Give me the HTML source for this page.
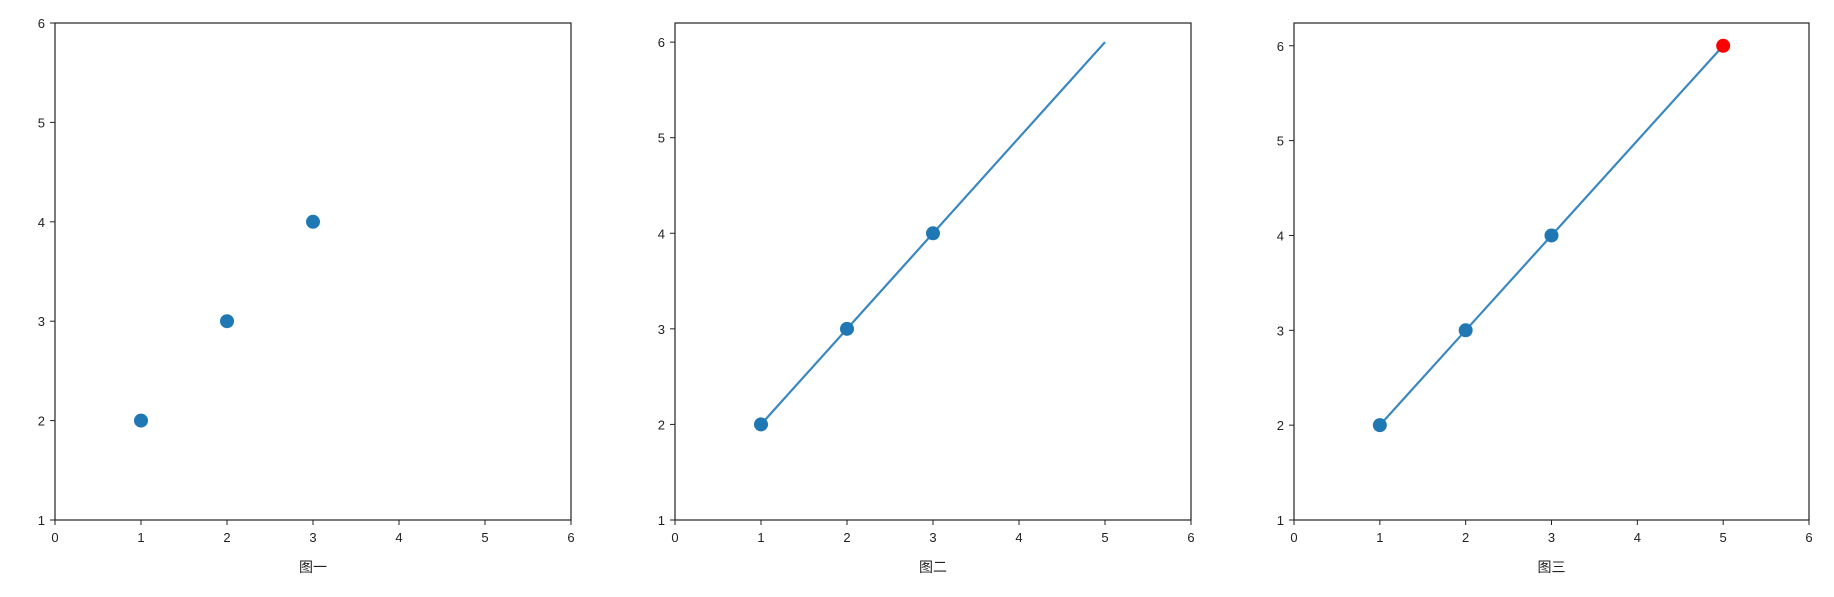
<!DOCTYPE html>
<html><head><meta charset="utf-8">
<style>
html,body{margin:0;padding:0;background:#fff;}
svg{display:block;}
text{font-family:"Liberation Sans","Noto Sans CJK SC",sans-serif;fill:#222;}
</style></head>
<body>
<svg id="chart" width="1834" height="597" xmlns="http://www.w3.org/2000/svg"></svg>
<script>
const xTicks = [0,1,2,3,4,5,6];
const p1X = [1,2,3];
const p1Y = [2,3,4];
const p2LineX = [1,2,3,5];
const p2LineY = [2,3,4,6];
const p2PtX = [1,2,3];
const p2PtY = [2,3,4];
const p3LineX = [1,2,3,5];
const p3LineY = [2,3,4,6];
const p3PtX = [1,2,3];
const p3PtY = [2,3,4];
const p3RedX = [5];
const p3RedY = [6];
const titles = ["图一","图二","图三"];
const yTicks1 = [1,2,3,4,5,6];
const yTicks2 = [1,2,3,4,5,6];
const yTicks3 = [1,2,3,4,5,6];

const NS="http://www.w3.org/2000/svg";
const svgEl=document.getElementById('chart');
function mk(tag,attrs,parent){const e=document.createElementNS(NS,tag);for(const k in attrs)e.setAttribute(k,attrs[k]);(parent||svgEl).appendChild(e);return e;}

const panels=[
 {left:55,right:571,ymax:6,yticks:yTicks1,pts:[[p1X,p1Y,'#1f77b4']],lines:[]},
 {left:675,right:1191,ymax:6.2,yticks:yTicks2,pts:[[p2PtX,p2PtY,'#1f77b4']],lines:[[p2LineX,p2LineY]]},
 {left:1294,right:1809,ymax:6.24,yticks:yTicks3,pts:[[p3PtX,p3PtY,'#1f77b4'],[p3RedX,p3RedY,'#ff0000']],lines:[[p3LineX,p3LineY]]}
];
const axTop=23,axBottom=520,ymin=1,xmin=0,xmax=6;
panels.forEach((p,i)=>{
  const g=mk('g',{});
  
  
  const sx=v=>p.left+(v-xmin)/(xmax-xmin)*(p.right-p.left);
  const sy=v=>axBottom-(v-ymin)/(p.ymax-ymin)*(axBottom-axTop);
  p.lines.forEach(([xs,ys])=>{
    const pl=mk('polyline',{points:xs.map((x,j)=>sx(x)+','+sy(ys[j])).join(' '),fill:'none',stroke:'#3a88bf','stroke-width':2.2},g);
    
    
  });
  p.pts.forEach(([xs,ys,c])=>{
    xs.forEach((x,j)=>{
      const ci=mk('circle',{cx:sx(x),cy:sy(ys[j]),r:7,fill:c},g);
      
      
    });
  });
  const fr=mk('rect',{x:p.left,y:axTop,width:p.right-p.left,height:axBottom-axTop,fill:'none',stroke:'#222','stroke-width':1.2},g);
  
  
  xTicks.forEach(t=>{
    const x=sx(t);
    mk('line',{x1:x,x2:x,y1:axBottom,y2:axBottom+5,stroke:'#222','stroke-width':1},g);
    const tx=mk('text',{x:x,y:axBottom+22,'text-anchor':'middle','font-size':13},g);
    tx.textContent=t;
    
    
  });
  p.yticks.forEach(t=>{
    const y=sy(t);
    mk('line',{x1:p.left-5,x2:p.left,y1:y,y2:y,stroke:'#222','stroke-width':1},g);
    const tx=mk('text',{x:p.left-10,y:y+5,'text-anchor':'end','font-size':13},g);
    tx.textContent=t;
    
    
  });
  const tt=mk('text',{x:(p.left+p.right)/2,y:572,'text-anchor':'middle','font-size':14},g);
  tt.textContent=titles[i];
  
  
});
</script>
</body></html>
